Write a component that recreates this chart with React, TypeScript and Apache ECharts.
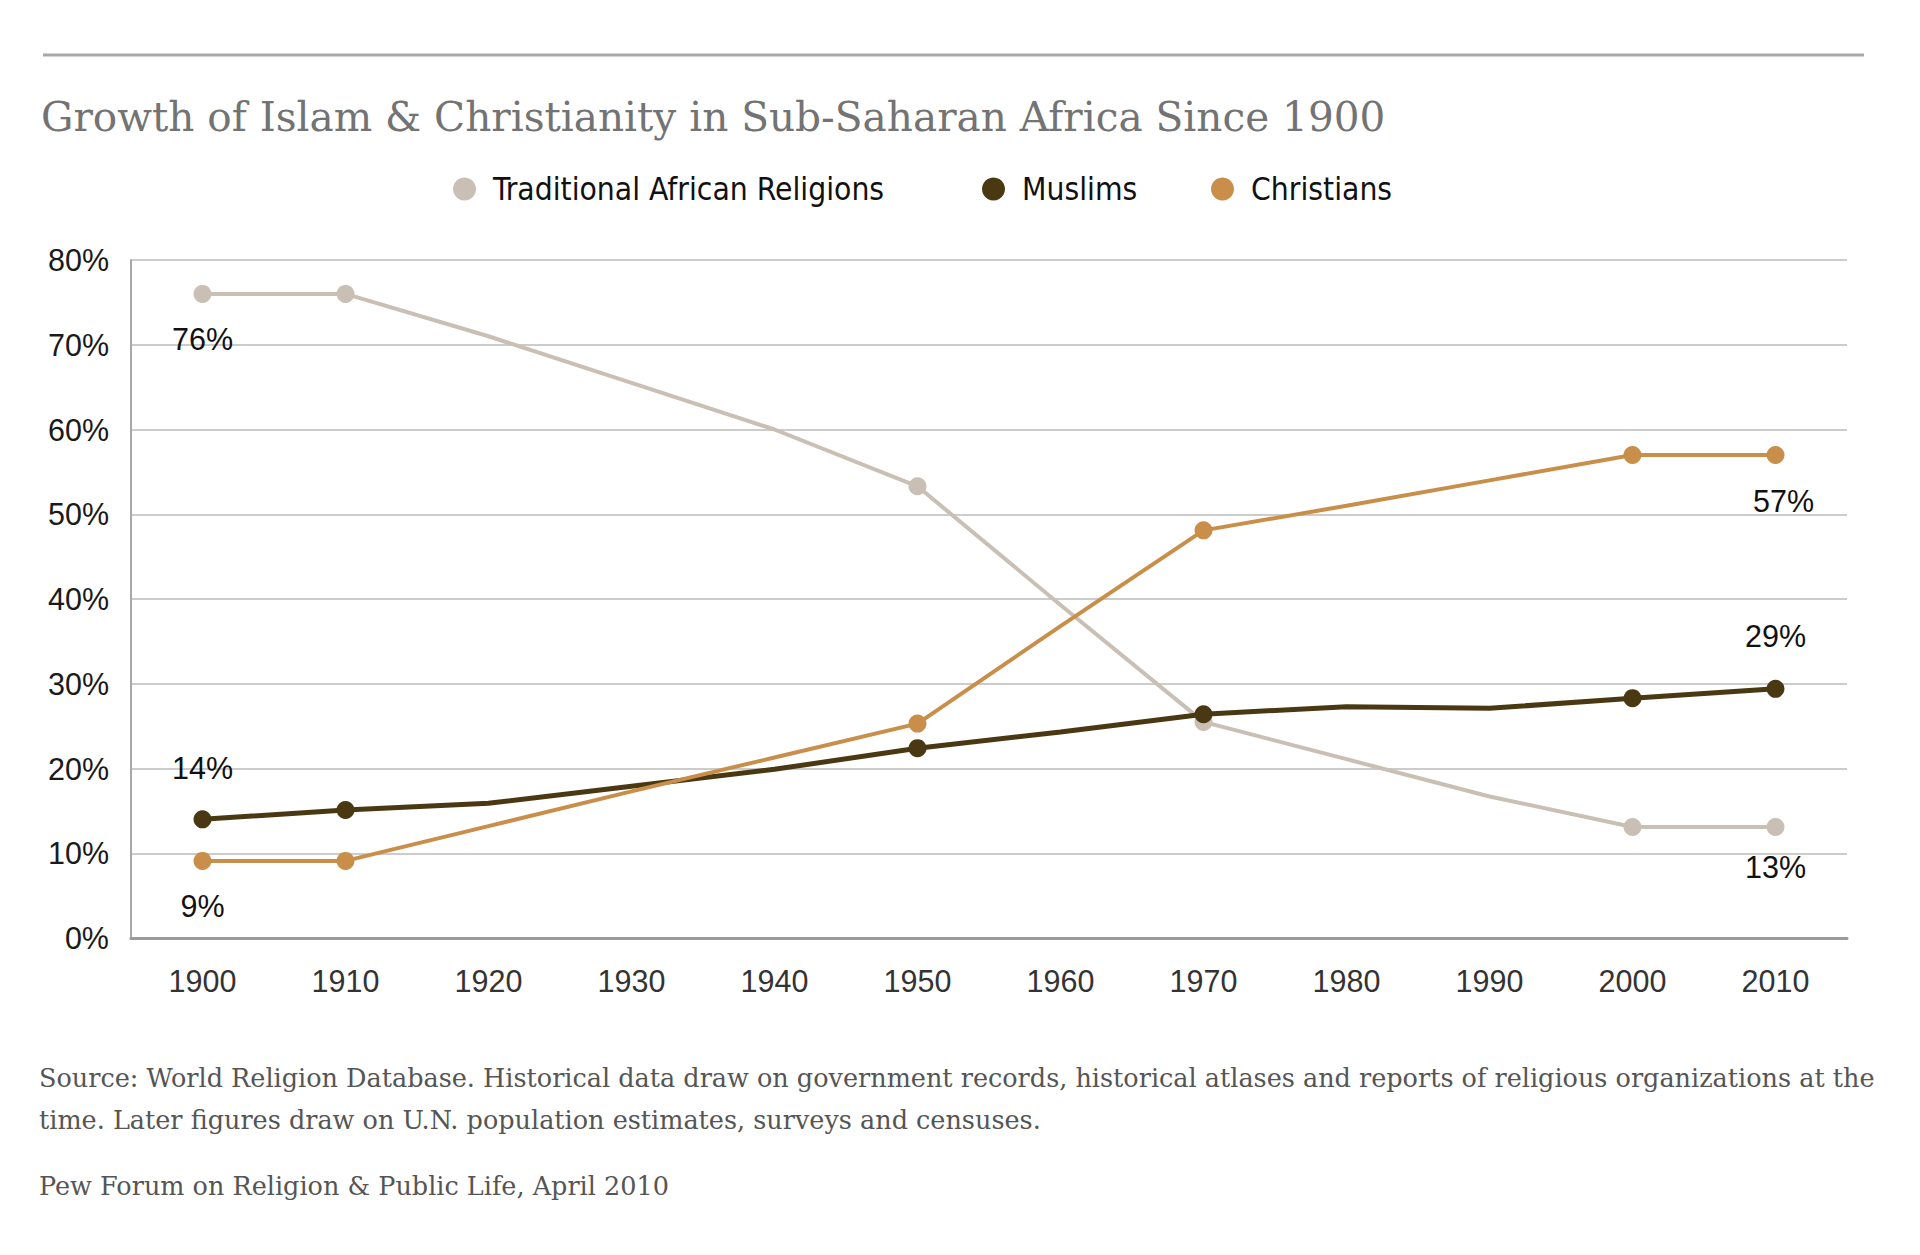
import React, { useEffect, useRef } from "react";
import * as echarts from "echarts";

const years = ["1900", "1910", "1920", "1930", "1940", "1950", "1960", "1970", "1980", "1990", "2000", "2010"];
const traditional = [76, 76, 71, 65.5, 60, 53.3, 39.3, 25.5, 21.1, 16.7, 13.1, 13.1];
const muslims = [14, 15.1, 15.9, 17.9, 19.9, 22.4, 24.3, 26.4, 27.3, 27.1, 28.3, 29.4];
const christians = [9.1, 9.1, 13.2, 17.3, 21.3, 25.3, 36.8, 48.1, 51, 54, 57, 57];
const markerYears = ["1900", "1910", "1950", "1970", "2000", "2010"];
const seriesNames = ["Traditional African Religions", "Muslims", "Christians"];
const yTicks = [0, 10, 20, 30, 40, 50, 60, 70, 80];

const titleText = "Growth of Islam & Christianity in Sub-Saharan Africa Since 1900";
const noteLines = [
  "Source: World Religion Database. Historical data draw on government records, historical atlases and reports of religious organizations at the",
  "time. Later figures draw on U.N. population estimates, surveys and censuses.",
];
const creditText = "Pew Forum on Religion & Public Life, April 2010";

const COLORS = ["#c9bfb4", "#4a3812", "#c98e4a"];

// labels: [seriesIndex, yearIndex, position, distance, dx]
const labelSpecs: Array<[number, number, "top" | "bottom", number, number]> = [
  [0, 0, "bottom", 21, 0],
  [0, 11, "bottom", 16, 0],
  [1, 0, "top", 27, 0],
  [1, 11, "top", 28, 0],
  [2, 0, "bottom", 21, 0],
  [2, 11, "bottom", 22, 8],
];

const sansFont = "'Liberation Sans', Arial, sans-serif";
const tickFontSize = 30.5;

function buildData(values: number[], sIdx: number) {
  return values.map((v, i) => {
    const item: any = { value: v };
    if (!markerYears.includes(years[i])) {
      item.symbol = "none";
    }
    const spec = labelSpecs.find((l) => l[0] === sIdx && l[1] === i);
    if (spec) {
      item.label = {
        show: true,
        position: spec[2],
        distance: spec[3],
        offset: [spec[4], 0],
        formatter: () => Math.round(v) + "%",
        fontFamily: sansFont,
        fontSize: tickFontSize,
        color: "#111",
      };
    }
    return item;
  });
}

export default function App() {
  const ref = useRef<HTMLDivElement>(null);
  useEffect(() => {
    if (!ref.current) return;
    const chart = echarts.init(ref.current, null, { renderer: "svg" });
    const legendLefts = [448, 977, 1206];
    const serifFont = "'DejaVu Serif', Georgia, serif";
    const option: any = {
      animation: false,
      backgroundColor: "#ffffff",
      title: {
        text: titleText,
        left: 36,
        top: 91,
        textStyle: {
          fontFamily: serifFont,
          fontSize: 40.6,
          fontWeight: "normal",
          color: "#737373",
        },
      },
      legend: seriesNames.map((n, i) => ({
        data: [n],
        left: legendLefts[i],
        top: 168,
        icon: "circle",
        itemWidth: 23,
        itemHeight: 23,
        textStyle: {
          fontFamily: "'DejaVu Sans Condensed', 'Liberation Sans Narrow', 'DejaVu Sans', sans-serif",
          fontSize: 31.5,
          color: "#111",
          padding: [0, 0, 3, 12],
        },
        selectedMode: false,
      })),
      grid: { left: 131, right: 73, top: 260, bottom: 317 },
      xAxis: {
        type: "category",
        data: years,
        boundaryGap: true,
        axisLine: { lineStyle: { color: "#9a9a9a", width: 3 } },
        axisTick: { show: false },
        axisLabel: {
          margin: 27,
          fontFamily: sansFont,
          fontSize: tickFontSize,
          color: "#333",
        },
      },
      yAxis: {
        type: "value",
        min: yTicks[0],
        max: yTicks[yTicks.length - 1],
        interval: 10,
        axisLine: { show: true, lineStyle: { color: "#a8a8a8", width: 2 } },
        axisTick: { show: false },
        splitLine: { lineStyle: { color: "#cccccc", width: 2 } },
        axisLabel: {
          margin: 22,
          formatter: "{value}%",
          fontFamily: sansFont,
          fontSize: tickFontSize,
          color: "#1a1a1a",
        },
      },
      series: [traditional, muslims, christians].map((vals, i) => ({
        name: seriesNames[i],
        type: "line",
        data: buildData(vals, i),
        symbol: "circle",
        symbolSize: 18,
        showAllSymbol: true,
        itemStyle: { color: COLORS[i] },
        lineStyle: { color: COLORS[i], width: i === 1 ? 5 : 4 },
        emphasis: { disabled: true },
        z: 2 + i,
      })),
      graphic: [
        {
          type: "line",
          shape: { x1: 43, y1: 55, x2: 1864, y2: 55 },
          style: { stroke: "#a9a9a9", lineWidth: 3 },
        },
        {
          type: "text",
          x: 39,
          y: 1078,
          style: {
            text: noteLines[0],
            font: `25.5px ${serifFont}`,
            fill: "#555",
            verticalAlign: "middle",
          },
        },
        {
          type: "text",
          x: 39,
          y: 1120,
          style: {
            text: noteLines[1],
            font: `25.5px ${serifFont}`,
            fill: "#555",
            verticalAlign: "middle",
          },
        },
        {
          type: "text",
          x: 39,
          y: 1186,
          style: {
            text: creditText,
            font: `25.5px ${serifFont}`,
            fill: "#555",
            verticalAlign: "middle",
          },
        },
      ],
    };
    chart.setOption(option);
    return () => chart.dispose();
  }, []);
  return (
    <div
      ref={ref}
      style={{ position: "fixed", left: 0, top: 0, width: 1920, height: 1255, background: "#fff" }}
    />
  );
}
